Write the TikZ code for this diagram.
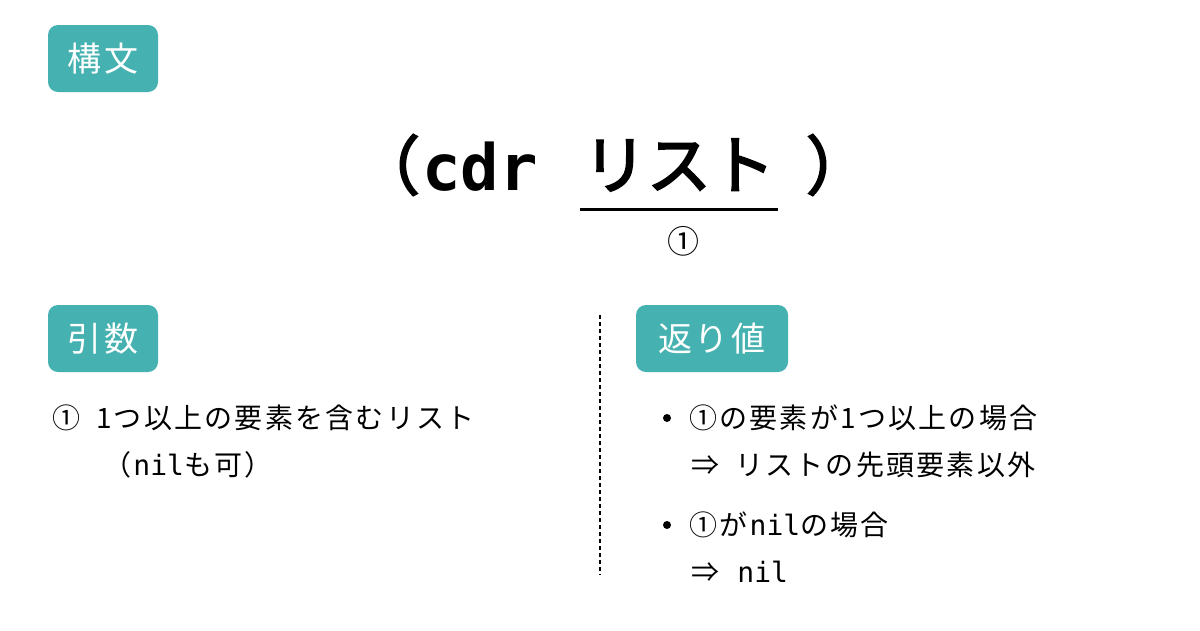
\documentclass[tikz,border=0pt]{standalone}
\usepackage{fontspec}
\setmainfont{Noto Sans CJK JP}[LetterSpace=8]
\newfontfamily\jpb{Noto Sans CJK JP}[FakeBold=3]
\setmonofont{DejaVu Sans Mono}
\definecolor{teal1}{HTML}{45B1B0}
\begin{document}
\begin{tikzpicture}[x=1pt,y=-1pt,
  badge/.style={fill=teal1,rounded corners=10pt,text=white,font=\fontsize{34}{40}\selectfont,inner sep=0pt},
  big/.style={inner sep=0pt,font=\fontsize{64}{70}\selectfont\jpb},
  txt/.style={anchor=west,font=\fontsize{28}{32}\selectfont,inner sep=0pt}]
\useasboundingbox (0,0) rectangle (1200,630);
\fill[white] (0,0) rectangle (1200,630);
\node[badge,minimum width=110pt,minimum height=67pt] (b1) at (103,58.5) {構文};
\node[badge,minimum width=110pt,minimum height=67pt] (b2) at (103,338.5) {引数};
\node[badge,minimum width=152pt,minimum height=67pt] (b3) at (712,338.5) {返り値};
\node[big] (p1) at (388,165) {（};
\node[big,font=\fontsize{64}{70}\selectfont\ttfamily\bfseries] (cdr) at (480,167) {cdr};
\node[big] (lst) at (679,165) {リスト};
\node[big] (p2) at (838,165) {）};
\coordinate (u1) at (580,209); \coordinate (u2) at (778,209);
\draw[line width=3pt] (u1) -- (u2);
\node[inner sep=0pt,font=\fontsize{32}{36}\selectfont] (c1) at (683,241) {①};
\coordinate (d1) at (600,315); \coordinate (d2) at (600,575);
\draw[dashed,line width=1.2pt,dash pattern=on 4pt off 3pt] (d1) -- (d2);
\node[txt] (l1) at (52,418) {①\hspace{16pt}1つ以上の要素を含むリスト};
\node[txt] (l2) at (103,465) {（\texttt{nil}も可）};
\fill (667,418) circle (4pt);
\node[txt] (r1) at (689,418) {①の要素が1つ以上の場合};
\node[txt] (r2) at (691,465) {⇒\hspace{16pt}リストの先頭要素以外};
\fill (667,525) circle (4pt);
\node[txt] (r3) at (689,525) {①が\texttt{nil}の場合};
\node[txt] (r4) at (691,572) {⇒\hspace{16pt}\texttt{nil}};
\end{tikzpicture}
\end{document}
